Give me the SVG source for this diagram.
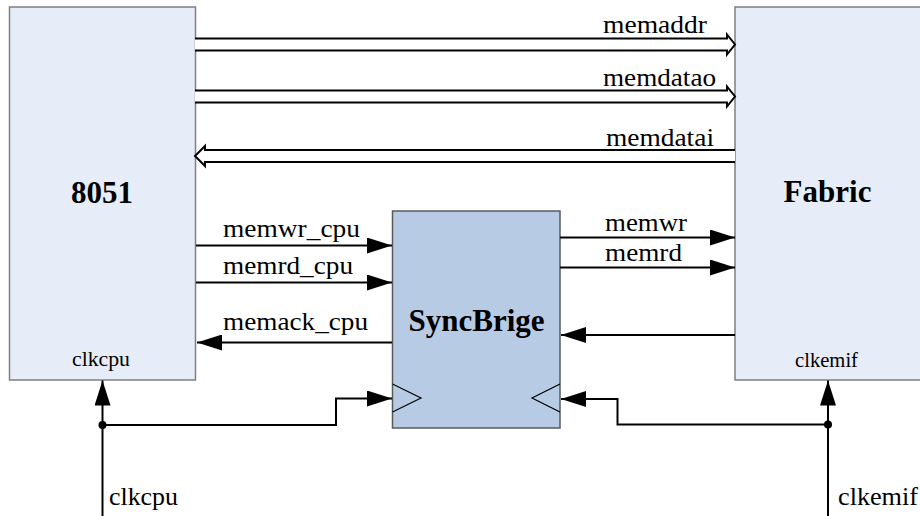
<svg xmlns="http://www.w3.org/2000/svg" width="920" height="516" viewBox="0 0 920 516">
  <style>
    .blk { fill: #e7edf8; stroke: #7f7f7f; stroke-width: 1.5; }
    .sync { fill: #b8cbe4; stroke: #595959; stroke-width: 1.5; }
    .title { font-family: "Liberation Serif", "Times New Roman", serif; font-weight: bold; font-size: 31px; fill: #000; }
    .sig { font-family: "Liberation Serif", "Times New Roman", serif; font-size: 26px; fill: #000; }
    .clk { font-family: "Liberation Serif", "Times New Roman", serif; font-size: 20px; fill: #000; }
    .clkin { font-family: "Liberation Serif", "Times New Roman", serif; font-size: 25px; fill: #000; }
    .wire { fill: none; stroke: #000; stroke-width: 2; }
    .bus { fill: #fff; stroke: #000; stroke-width: 2; stroke-linejoin: miter; }
    .edge { fill: none; stroke: #000; stroke-width: 1.2; }
  </style>
  <defs>
    <marker id="arrow" markerUnits="userSpaceOnUse" markerWidth="26" markerHeight="16" refX="25" refY="8" orient="auto">
      <path d="M0,0 L25,8 L0,16 z" fill="#000"/>
    </marker>
  </defs>

  <rect width="920" height="516" fill="#fff"/>

  <!-- CPU block -->
  <g id="cpu">
    <rect class="blk" x="9.5" y="7" width="186" height="373"/>
    <text class="title" x="102" y="203" text-anchor="middle">8051</text>
    <text class="clk" x="72" y="366" textLength="58" lengthAdjust="spacingAndGlyphs">clkcpu</text>
  </g>

  <!-- Fabric block -->
  <g id="fabric">
    <rect class="blk" x="735" y="7" width="190" height="373"/>
    <text class="title" x="827.5" y="202" text-anchor="middle">Fabric</text>
    <text class="clk" x="795" y="367" textLength="63" lengthAdjust="spacingAndGlyphs">clkemif</text>
  </g>

  <!-- Clock-domain bridge -->
  <g id="syncbrige">
    <rect class="sync" x="392.5" y="211" width="167.5" height="217"/>
    <text class="title" x="476.5" y="331" text-anchor="middle">SyncBrige</text>
    <path class="edge" d="M392.5,384 L421,398 L392.5,412"/>
    <path class="edge" d="M560,384 L532,398 L560,412"/>
  </g>

  <!-- Connectors -->
  <g id="connectors">
    <!-- buses -->
    <path class="bus" d="M195,38.5 H727 V34.5 L735,44.5 L727,54.5 V50.5 H195"/>
    <path class="bus" d="M195,90.5 H727 V86.5 L735,96.5 L727,106.5 V102.5 H195"/>
    <path class="bus" d="M735,150 H205 V146 L195,156 L205,166 V162 H735"/>

    <!-- CPU-side handshake -->
    <line class="wire" x1="196" y1="245.5" x2="392" y2="245.5" marker-end="url(#arrow)"/>
    <line class="wire" x1="196" y1="282.5" x2="392" y2="282.5" marker-end="url(#arrow)"/>
    <line class="wire" x1="392" y1="342.5" x2="197" y2="342.5" marker-end="url(#arrow)"/>

    <!-- Fabric-side handshake -->
    <line class="wire" x1="560" y1="237.5" x2="735" y2="237.5" marker-end="url(#arrow)"/>
    <line class="wire" x1="560" y1="267.5" x2="735" y2="267.5" marker-end="url(#arrow)"/>
    <line class="wire" x1="735" y1="335" x2="561" y2="335" marker-end="url(#arrow)"/>

    <!-- clocks -->
    <line class="wire" x1="102.5" y1="516" x2="102.5" y2="380.5" marker-end="url(#arrow)"/>
    <polyline class="wire" points="102.5,425 336,425 336,398.5 392,398.5" marker-end="url(#arrow)"/>
    <circle cx="102.5" cy="425" r="4" fill="#000"/>

    <line class="wire" x1="828" y1="516" x2="828" y2="380.5" marker-end="url(#arrow)"/>
    <polyline class="wire" points="828,424.5 617.5,424.5 617.5,399 561,399" marker-end="url(#arrow)"/>
    <circle cx="828" cy="424.5" r="4" fill="#000"/>

    <!-- labels -->
    <text class="sig" x="603" y="33" textLength="104" lengthAdjust="spacingAndGlyphs">memaddr</text>
    <text class="sig" x="603" y="86" textLength="113" lengthAdjust="spacingAndGlyphs">memdatao</text>
    <text class="sig" x="606" y="146" textLength="108" lengthAdjust="spacingAndGlyphs">memdatai</text>
    <text class="sig" x="223" y="237" textLength="137" lengthAdjust="spacingAndGlyphs">memwr_cpu</text>
    <text class="sig" x="223" y="274" textLength="130" lengthAdjust="spacingAndGlyphs">memrd_cpu</text>
    <text class="sig" x="223" y="330" textLength="145" lengthAdjust="spacingAndGlyphs">memack_cpu</text>
    <text class="sig" x="605" y="231" textLength="82" lengthAdjust="spacingAndGlyphs">memwr</text>
    <text class="sig" x="605" y="261" textLength="77" lengthAdjust="spacingAndGlyphs">memrd</text>
    <text class="clkin" x="109" y="505" textLength="69" lengthAdjust="spacingAndGlyphs">clkcpu</text>
    <text class="clkin" x="838" y="505" textLength="80" lengthAdjust="spacingAndGlyphs">clkemif</text>
  </g>
</svg>
